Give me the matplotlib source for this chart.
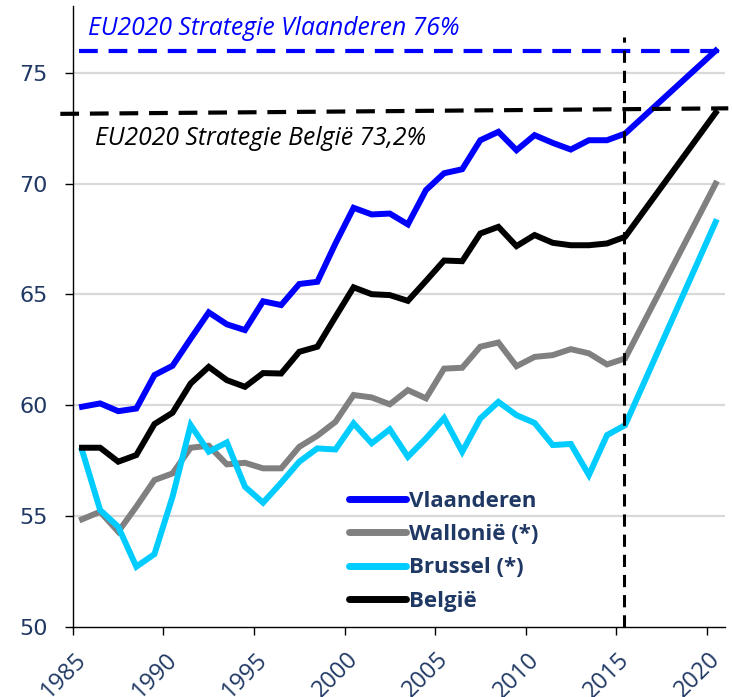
import matplotlib
matplotlib.use("Agg")
import matplotlib.pyplot as plt
from matplotlib.transforms import ScaledTranslation
import numpy as np

years = list(range(1985, 2016)) + [2020]
vlaanderen = [59.93, 60.08, 59.73, 59.85, 61.36, 61.78, 63.0, 64.19, 63.65, 63.39,
              64.69, 64.52, 65.47, 65.57, 67.3, 68.91, 68.61, 68.65, 68.16, 69.71,
              70.47, 70.65, 71.96, 72.34, 71.51, 72.19, 71.84, 71.54, 71.96, 71.96,
              72.26, 76.0]
belgie = [58.08, 58.08, 57.45, 57.75, 59.15, 59.66, 60.98, 61.73, 61.13, 60.83,
          61.45, 61.43, 62.41, 62.64, 63.99, 65.32, 65.01, 64.97, 64.71, 65.61,
          66.53, 66.5, 67.75, 68.05, 67.18, 67.68, 67.33, 67.22, 67.22, 67.3,
          67.6, 73.2]
wallonie = [54.85, 55.19, 54.29, 55.42, 56.62, 56.92, 58.08, 58.17, 57.33, 57.4,
            57.15, 57.15, 58.12, 58.62, 59.25, 60.46, 60.35, 60.04, 60.68, 60.31,
            61.65, 61.69, 62.64, 62.83, 61.76, 62.18, 62.26, 62.53, 62.34, 61.84,
            62.11, 70.0]
brussel = [57.97, 55.27, 54.51, 52.71, 53.28, 55.87, 59.1, 57.9, 58.32, 56.32,
           55.6, 56.5, 57.45, 58.05, 58.0, 59.18, 58.28, 58.91, 57.67, 58.5,
           59.42, 57.9, 59.4, 60.15, 59.55, 59.2, 58.2, 58.25, 56.85, 58.65,
           59.1, 68.27]

target_vl = 76.0
target_be = (73.15, 73.4)
xticks = [1985, 1990, 1995, 2000, 2005, 2010, 2015, 2020]
yticks = [50, 55, 60, 65, 70, 75]

navy = "#1F3864"
x = np.array(years) + 0.5

fig = plt.figure(figsize=(7.32, 6.97), dpi=100)
ax = fig.add_axes([0.0997, 0.1008, 0.8903, 0.890])

for yv in yticks[1:]:
    ax.axhline(yv, color="#D9D9D9", lw=1.6, zorder=0)

lw = 4.3
ax.plot(x, vlaanderen, color="#0000FF", lw=lw, label="Vlaanderen", solid_joinstyle="miter", zorder=3)
ax.plot(x, wallonie, color="#808080", lw=lw, label="Wallonië (*)", solid_joinstyle="miter", zorder=2)
ax.plot(x, brussel, color="#00CCFF", lw=lw, label="Brussel (*)", solid_joinstyle="miter", zorder=2.5)
ax.plot(x, belgie, color="#000000", lw=lw, label="België", solid_joinstyle="miter", zorder=3)

ax.plot([1985.35, 2021.2], [target_vl, target_vl], color="#0000FF", lw=3.0,
        dashes=(4.5, 2.6), zorder=4, clip_on=False)
ax.plot([1984.3, 2021.2], list(target_be), color="#000000", lw=3.0,
        dashes=(4.5, 2.6), zorder=4, clip_on=False)
ax.plot([2015.45, 2015.45], [50, 76.6], color="#000000", lw=2.2,
        dashes=(4.0, 2.6), zorder=4)

ax.text(1985.83, 77.0, "EU2020 Strategie Vlaanderen 76%", color="#0000FF",
        fontsize=17.8, fontstyle="italic", family="Open Sans", va="center", ha="left")
ax.text(1986.2, 72.03, "EU2020 Strategie België 73,2%", color="#000000",
        fontsize=17.8, fontstyle="italic", family="Open Sans", va="center", ha="left")

ax.set_xlim(1985, 2021)
ax.set_ylim(50, 78)
ax.set_xticks(xticks)
ax.set_yticks(yticks)
ax.set_yticklabels([str(v) for v in yticks], color=navy, fontsize=16)
ax.set_xticklabels([str(v) for v in xticks], color=navy, fontsize=17,
                   family="Open Sans", rotation=45, ha="right", va="center",
                   rotation_mode="anchor")
ax.tick_params(axis="both", direction="out", length=6, width=1, color="#000000")
ax.tick_params(axis="y", pad=12)
ax.tick_params(axis="x", pad=0)
off = ScaledTranslation(0.10, -0.21, fig.dpi_scale_trans)
for lab in ax.get_xticklabels():
    lab.set_transform(lab.get_transform() + off)
for s in ["top", "right"]:
    ax.spines[s].set_visible(False)
for s in ["left", "bottom"]:
    ax.spines[s].set_linewidth(1.0)

leg = ax.legend(loc="upper left", bbox_to_anchor=(349 / 732, 1 - 491 / 697),
                bbox_transform=fig.transFigure, frameon=False,
                handlelength=2.55, handletextpad=0.15, labelspacing=0.55,
                borderaxespad=0, borderpad=0,
                prop={"family": "Open Sans", "weight": "bold", "size": 16})
for t in leg.get_texts():
    t.set_color(navy)
for h in leg.get_lines():
    h.set_linewidth(5)
    h.set_solid_capstyle("round")

fig.savefig("out.png", dpi=100)
